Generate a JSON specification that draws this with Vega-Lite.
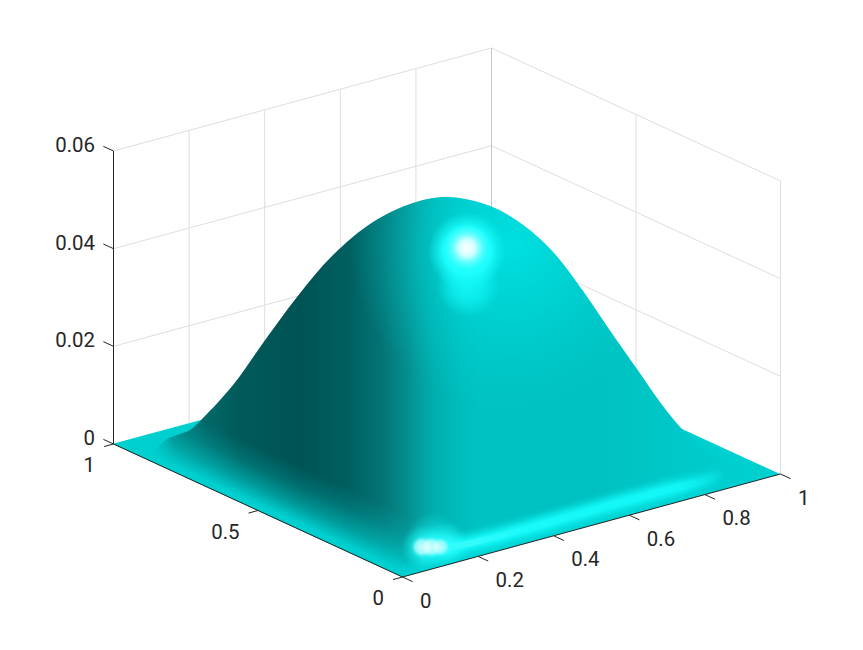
{"$schema":"https://vega.github.io/schema/vega-lite/v6.json","width":863,"height":650,"padding":0,"autosize":{"type":"fit","contains":"padding"},"background":"white","config":{"view":{"stroke":null}},
"datasets":{
"frame":[
{"k":"grid","g":"a1","x":0.2,"y":1,"z":0},{"k":"grid","g":"a1","x":0.2,"y":1,"z":0.06},
{"k":"grid","g":"a2","x":0.4,"y":1,"z":0},{"k":"grid","g":"a2","x":0.4,"y":1,"z":0.06},
{"k":"grid","g":"a3","x":0.6,"y":1,"z":0},{"k":"grid","g":"a3","x":0.6,"y":1,"z":0.06},
{"k":"grid","g":"a4","x":0.8,"y":1,"z":0},{"k":"grid","g":"a4","x":0.8,"y":1,"z":0.06},
{"k":"grid","g":"a5","x":1,"y":0.5,"z":0},{"k":"grid","g":"a5","x":1,"y":0.5,"z":0.06},
{"k":"grid","g":"a6","x":1,"y":0,"z":0},{"k":"grid","g":"a6","x":1,"y":0,"z":0.06},
{"k":"grid","g":"b1","x":0,"y":1,"z":0.02},{"k":"grid","g":"b1","x":1,"y":1,"z":0.02},
{"k":"grid","g":"b2","x":0,"y":1,"z":0.04},{"k":"grid","g":"b2","x":1,"y":1,"z":0.04},
{"k":"grid","g":"b3","x":0,"y":1,"z":0.06},{"k":"grid","g":"b3","x":1,"y":1,"z":0.06},
{"k":"grid","g":"c1","x":1,"y":1,"z":0.02},{"k":"grid","g":"c1","x":1,"y":0,"z":0.02},
{"k":"grid","g":"c2","x":1,"y":1,"z":0.04},{"k":"grid","g":"c2","x":1,"y":0,"z":0.04},
{"k":"grid","g":"c3","x":1,"y":1,"z":0.06},{"k":"grid","g":"c3","x":1,"y":0,"z":0.06},
{"k":"back","g":"d","x":1,"y":1,"z":0},{"k":"back","g":"d","x":1,"y":1,"z":0.06},
{"k":"axis","g":"xa","x":0,"y":0,"z":0},{"k":"axis","g":"xa","x":1,"y":0,"z":0},
{"k":"axis","g":"ya","x":0,"y":0,"z":0},{"k":"axis","g":"ya","x":0,"y":1,"z":0},
{"k":"axis","g":"za","x":0,"y":1,"z":0},{"k":"axis","g":"za","x":0,"y":1,"z":0.06},
{"k":"axis","g":"xt0","x":0,"y":0,"z":0},{"k":"axis","g":"xt0","x":0,"y":-0.035,"z":0},
{"k":"axis","g":"xt1","x":0.2,"y":0,"z":0},{"k":"axis","g":"xt1","x":0.2,"y":-0.035,"z":0},
{"k":"axis","g":"xt2","x":0.4,"y":0,"z":0},{"k":"axis","g":"xt2","x":0.4,"y":-0.035,"z":0},
{"k":"axis","g":"xt3","x":0.6,"y":0,"z":0},{"k":"axis","g":"xt3","x":0.6,"y":-0.035,"z":0},
{"k":"axis","g":"xt4","x":0.8,"y":0,"z":0},{"k":"axis","g":"xt4","x":0.8,"y":-0.035,"z":0},
{"k":"axis","g":"xt5","x":1,"y":0,"z":0},{"k":"axis","g":"xt5","x":1,"y":-0.035,"z":0},
{"k":"axis","g":"yt0","x":0,"y":0,"z":0},{"k":"axis","g":"yt0","x":-0.025,"y":0,"z":0},
{"k":"axis","g":"yt1","x":0,"y":0.5,"z":0},{"k":"axis","g":"yt1","x":-0.025,"y":0.5,"z":0},
{"k":"axis","g":"yt2","x":0,"y":1,"z":0},{"k":"axis","g":"yt2","x":-0.025,"y":1,"z":0},
{"k":"axis","g":"zt0","x":0,"y":1,"z":0},{"k":"axis","g":"zt0","x":0,"y":1.035,"z":0},
{"k":"axis","g":"zt1","x":0,"y":1,"z":0.02},{"k":"axis","g":"zt1","x":0,"y":1.035,"z":0.02},
{"k":"axis","g":"zt2","x":0,"y":1,"z":0.04},{"k":"axis","g":"zt2","x":0,"y":1.035,"z":0.04},
{"k":"axis","g":"zt3","x":0,"y":1,"z":0.06},{"k":"axis","g":"zt3","x":0,"y":1.035,"z":0.06}
],
"labels":[
{"a":"x","x":0,"y":0,"z":0,"t":"0"},{"a":"x","x":0.2,"y":0,"z":0,"t":"0.2"},{"a":"x","x":0.4,"y":0,"z":0,"t":"0.4"},{"a":"x","x":0.6,"y":0,"z":0,"t":"0.6"},{"a":"x","x":0.8,"y":0,"z":0,"t":"0.8"},{"a":"x","x":1,"y":0,"z":0,"t":"1"},
{"a":"y","x":0,"y":0,"z":0,"t":"0"},{"a":"y","x":0,"y":0.5,"z":0,"t":"0.5"},{"a":"y","x":0,"y":1,"z":0,"t":"1"},
{"a":"z","x":0,"y":1,"z":0,"t":"0"},{"a":"z","x":0,"y":1,"z":0.02,"t":"0.02"},{"a":"z","x":0,"y":1,"z":0.04,"t":"0.04"},{"a":"z","x":0,"y":1,"z":0.06,"t":"0.06"}
],
"shape":[
{"s":"base","h":113,"v":444},{"s":"base","h":402,"v":577},{"s":"base","h":780,"v":474},{"s":"base","h":491,"v":341},
{"s":"dome","h":150,"v":456},{"s":"dome","h":167,"v":439},{"s":"dome","h":177,"v":435},{"s":"dome","h":190,"v":430},{"s":"dome","h":203,"v":418},{"s":"dome","h":233,"v":385},{"s":"dome","h":263,"v":343},{"s":"dome","h":297,"v":297},{"s":"dome","h":333,"v":255},{"s":"dome","h":373,"v":222},{"s":"dome","h":413,"v":203},{"s":"dome","h":447,"v":197},{"s":"dome","h":490,"v":206},{"s":"dome","h":523,"v":225},{"s":"dome","h":553,"v":252},{"s":"dome","h":583,"v":291},{"s":"dome","h":613,"v":335},{"s":"dome","h":637,"v":369},{"s":"dome","h":660,"v":402},{"s":"dome","h":682,"v":429},{"s":"dome","h":705,"v":449},{"s":"dome","h":730,"v":463},{"s":"dome","h":755,"v":476},{"s":"dome","h":700,"v":492},{"s":"dome","h":550,"v":533},{"s":"dome","h":430,"v":565},{"s":"dome","h":402,"v":572},{"s":"dome","h":300,"v":525},{"s":"dome","h":200,"v":479},
{"s":"leftband","h":26,"v":404},{"s":"leftband","h":113,"v":444},{"s":"leftband","h":402,"v":577},{"s":"leftband","h":490,"v":617.5},{"s":"leftband","h":402,"v":577},{"s":"leftband","h":490,"v":553},{"s":"leftband","h":490,"v":404},{"s":"leftband","h":236,"v":404},{"s":"leftband","h":205,"v":418},{"s":"leftband","h":113,"v":444},
{"s":"frontband","h":402,"v":577},{"s":"frontband","h":780,"v":474},{"s":"frontband","h":402,"v":474},
{"s":"halo2","h":436,"v":253},{"s":"halo2","h":500,"v":253},{"s":"halo2","h":500,"v":317},{"s":"halo2","h":436,"v":317},
{"s":"halo1","h":428,"v":212},{"s":"halo1","h":506,"v":212},{"s":"halo1","h":506,"v":290},{"s":"halo1","h":428,"v":290},
{"s":"core1","h":443,"v":224},{"s":"core1","h":491,"v":224},{"s":"core1","h":491,"v":272},{"s":"core1","h":443,"v":272},
{"s":"streak","h":418,"v":551},{"s":"streak","h":440,"v":549},{"s":"streak","h":480,"v":541},{"s":"streak","h":540,"v":525},{"s":"streak","h":600,"v":508},{"s":"streak","h":660,"v":492},{"s":"streak","h":700,"v":482},{"s":"streak","h":725,"v":474},
{"s":"halo3","h":405,"v":512},{"s":"halo3","h":461,"v":512},{"s":"halo3","h":461,"v":568},{"s":"halo3","h":405,"v":568},
{"s":"halo4","h":401,"v":525},{"s":"halo4","h":447,"v":525},{"s":"halo4","h":447,"v":571},{"s":"halo4","h":401,"v":571},
{"s":"halo5","h":423,"v":522},{"s":"halo5","h":469,"v":522},{"s":"halo5","h":469,"v":568},{"s":"halo5","h":423,"v":568},
{"s":"core2","h":411,"v":536},{"s":"core2","h":433,"v":536},{"s":"core2","h":433,"v":558},{"s":"core2","h":411,"v":558},
{"s":"core3","h":420,"v":536},{"s":"core3","h":442,"v":536},{"s":"core3","h":442,"v":558},{"s":"core3","h":420,"v":558},
{"s":"core4","h":430,"v":537},{"s":"core4","h":450,"v":537},{"s":"core4","h":450,"v":557},{"s":"core4","h":430,"v":557}
]},
"encoding":{"x":{"field":"h","type":"quantitative","axis":null,"scale":{"domain":[0,863],"zero":false,"nice":false}},"y":{"field":"v","type":"quantitative","axis":null,"scale":{"domain":[650,0],"zero":false,"nice":false}}},
"layer":[
{"data":{"name":"frame"},"transform":[{"filter":"datum.k=='grid'"},{"calculate":"402.5+378*datum.x-289*datum.y","as":"h"},{"calculate":"577-103*datum.x-133*datum.y-4883.3*datum.z","as":"v"}],"mark":{"type":"line","stroke":"#dedede","strokeWidth":1},"encoding":{"detail":{"field":"g"}}},
{"data":{"name":"frame"},"transform":[{"filter":"datum.k=='back'"},{"calculate":"402.5+378*datum.x-289*datum.y","as":"h"},{"calculate":"577-103*datum.x-133*datum.y-4883.3*datum.z","as":"v"}],"mark":{"type":"line","stroke":"#c6c6c6","strokeWidth":1},"encoding":{"detail":{"field":"g"}}},
{"data":{"name":"shape"},"transform":[{"window":[{"op":"row_number","as":"i"}]},{"filter":"datum.s=='base'"}],"mark":{"type":"line","fill":"#00cfcf","strokeWidth":0},"encoding":{"order":{"field":"i"}}},
{"data":{"name":"shape"},"transform":[{"window":[{"op":"row_number","as":"i"}]},{"filter":"datum.s=='dome'"}],"mark":{"type":"line","interpolate":"catmull-rom","strokeWidth":0,"fill":{"gradient":"linear","x1":0,"y1":0,"x2":1,"y2":0,"stops":[{"offset":0,"color":"#00cccc"},{"offset":0.016,"color":"#00a8a8"},{"offset":0.04,"color":"#037a7a"},{"offset":0.09,"color":"#03696a"},{"offset":0.148,"color":"#015a5a"},{"offset":0.246,"color":"#005354"},{"offset":0.328,"color":"#005f60"},{"offset":0.385,"color":"#047577"},{"offset":0.426,"color":"#058e8f"},{"offset":0.45,"color":"#03a2a2"},{"offset":0.475,"color":"#00b0b0"},{"offset":0.508,"color":"#00bcbc"},{"offset":0.541,"color":"#00c2c2"},{"offset":0.738,"color":"#00c1c1"},{"offset":0.869,"color":"#00c8c8"},{"offset":1,"color":"#00d0d0"}]}},"encoding":{"order":{"field":"i"}}},
{"data":{"name":"shape"},"transform":[{"window":[{"op":"row_number","as":"i"}]},{"filter":"datum.s=='dome'"}],"mark":{"type":"line","interpolate":"catmull-rom","strokeWidth":0,"fill":{"gradient":"radial","x1":0.6,"y1":0.27,"r1":0,"x2":0.6,"y2":0.27,"r2":0.27,"stops":[{"offset":0,"color":"rgba(0,232,232,0.8)"},{"offset":0.5,"color":"rgba(0,225,225,0.4)"},{"offset":1,"color":"rgba(0,215,215,0)"}]}},"encoding":{"order":{"field":"i"}}},
{"data":{"name":"shape"},"transform":[{"window":[{"op":"row_number","as":"i"}]},{"filter":"datum.s=='halo2'"}],"mark":{"type":"line","strokeWidth":0,"fill":{"gradient":"radial","x1":0.5,"y1":0.5,"r1":0,"x2":0.5,"y2":0.5,"r2":0.5,"stops":[{"offset":0,"color":"rgba(20,250,250,0.9)"},{"offset":0.5,"color":"rgba(20,250,250,0.6)"},{"offset":1,"color":"rgba(20,250,250,0)"}]}},"encoding":{"order":{"field":"i"}}},
{"data":{"name":"shape"},"transform":[{"window":[{"op":"row_number","as":"i"}]},{"filter":"datum.s=='halo1'"}],"mark":{"type":"line","strokeWidth":0,"fill":{"gradient":"radial","x1":0.5,"y1":0.5,"r1":0,"x2":0.5,"y2":0.5,"r2":0.5,"stops":[{"offset":0,"color":"rgba(30,255,255,1)"},{"offset":0.6,"color":"rgba(30,255,255,0.95)"},{"offset":1,"color":"rgba(20,245,245,0)"}]}},"encoding":{"order":{"field":"i"}}},
{"data":{"name":"shape"},"transform":[{"window":[{"op":"row_number","as":"i"}]},{"filter":"datum.s=='core1'"}],"mark":{"type":"line","strokeWidth":0,"fill":{"gradient":"radial","x1":0.5,"y1":0.5,"r1":0,"x2":0.5,"y2":0.5,"r2":0.5,"stops":[{"offset":0,"color":"rgba(255,255,255,1)"},{"offset":0.35,"color":"rgba(225,255,255,0.9)"},{"offset":1,"color":"rgba(60,255,255,0)"}]}},"encoding":{"order":{"field":"i"}}},
{"data":{"name":"shape"},"transform":[{"window":[{"op":"row_number","as":"i"}]},{"filter":"datum.s=='leftband'"}],"mark":{"type":"line","strokeWidth":0,"fill":{"gradient":"linear","x1":0,"y1":1,"x2":1,"y2":0,"stops":[{"offset":0,"color":"rgba(0,207,207,1)"},{"offset":0.515,"color":"rgba(0,207,207,1)"},{"offset":0.557,"color":"rgba(0,207,207,0.55)"},{"offset":0.603,"color":"rgba(0,207,207,0.2)"},{"offset":0.65,"color":"rgba(0,207,207,0)"},{"offset":1,"color":"rgba(0,207,207,0)"}]}},"encoding":{"order":{"field":"i"}}},
{"data":{"name":"shape"},"transform":[{"window":[{"op":"row_number","as":"i"}]},{"filter":"datum.s=='frontband'"}],"mark":{"type":"line","strokeWidth":0,"fill":{"gradient":"linear","x1":0,"y1":0,"x2":1,"y2":1,"stops":[{"offset":0,"color":"rgba(0,207,207,0)"},{"offset":0.43,"color":"rgba(0,207,207,0)"},{"offset":0.48,"color":"rgba(0,207,207,1)"},{"offset":1,"color":"rgba(0,207,207,1)"}]}},"encoding":{"order":{"field":"i"}}},
{"data":{"name":"shape"},"transform":[{"window":[{"op":"row_number","as":"i"}]},{"filter":"datum.s=='streak'"}],"mark":{"type":"line","interpolate":"catmull-rom","strokeWidth":28,"fill":null,"stroke":{"gradient":"linear","x1":0,"y1":0,"x2":1,"y2":0,"stops":[{"offset":0,"color":"rgba(20,255,255,0)"},{"offset":0.1,"color":"rgba(20,255,255,0.1)"},{"offset":0.8,"color":"rgba(20,255,255,0.07)"},{"offset":1,"color":"rgba(20,255,255,0)"}]}},"encoding":{"order":{"field":"i"}}},
{"data":{"name":"shape"},"transform":[{"window":[{"op":"row_number","as":"i"}]},{"filter":"datum.s=='streak'"}],"mark":{"type":"line","interpolate":"catmull-rom","strokeWidth":23,"fill":null,"stroke":{"gradient":"linear","x1":0,"y1":0,"x2":1,"y2":0,"stops":[{"offset":0,"color":"rgba(20,255,255,0)"},{"offset":0.1,"color":"rgba(20,255,255,0.2)"},{"offset":0.8,"color":"rgba(20,255,255,0.15)"},{"offset":1,"color":"rgba(20,255,255,0)"}]}},"encoding":{"order":{"field":"i"}}},
{"data":{"name":"shape"},"transform":[{"window":[{"op":"row_number","as":"i"}]},{"filter":"datum.s=='streak'"}],"mark":{"type":"line","interpolate":"catmull-rom","strokeWidth":18,"fill":null,"stroke":{"gradient":"linear","x1":0,"y1":0,"x2":1,"y2":0,"stops":[{"offset":0,"color":"rgba(20,255,255,0)"},{"offset":0.1,"color":"rgba(20,255,255,0.28)"},{"offset":0.8,"color":"rgba(20,255,255,0.22)"},{"offset":1,"color":"rgba(20,255,255,0)"}]}},"encoding":{"order":{"field":"i"}}},
{"data":{"name":"shape"},"transform":[{"window":[{"op":"row_number","as":"i"}]},{"filter":"datum.s=='streak'"}],"mark":{"type":"line","interpolate":"catmull-rom","strokeWidth":14,"fill":null,"stroke":{"gradient":"linear","x1":0,"y1":0,"x2":1,"y2":0,"stops":[{"offset":0,"color":"rgba(20,255,255,0)"},{"offset":0.1,"color":"rgba(20,255,255,0.38)"},{"offset":0.85,"color":"rgba(20,255,255,0.3)"},{"offset":1,"color":"rgba(20,255,255,0)"}]}},"encoding":{"order":{"field":"i"}}},
{"data":{"name":"shape"},"transform":[{"window":[{"op":"row_number","as":"i"}]},{"filter":"datum.s=='streak'"}],"mark":{"type":"line","interpolate":"catmull-rom","strokeWidth":10,"fill":null,"stroke":{"gradient":"linear","x1":0,"y1":0,"x2":1,"y2":0,"stops":[{"offset":0,"color":"rgba(20,255,255,0)"},{"offset":0.1,"color":"rgba(30,255,255,0.5)"},{"offset":0.85,"color":"rgba(20,255,255,0.4)"},{"offset":1,"color":"rgba(20,255,255,0)"}]}},"encoding":{"order":{"field":"i"}}},
{"data":{"name":"shape"},"transform":[{"window":[{"op":"row_number","as":"i"}]},{"filter":"datum.s=='streak'"}],"mark":{"type":"line","interpolate":"catmull-rom","strokeWidth":6,"fill":null,"stroke":{"gradient":"linear","x1":0,"y1":0,"x2":1,"y2":0,"stops":[{"offset":0,"color":"rgba(40,255,255,0)"},{"offset":0.12,"color":"rgba(90,255,255,0.6)"},{"offset":0.35,"color":"rgba(30,255,255,0.55)"},{"offset":0.85,"color":"rgba(20,255,255,0.45)"},{"offset":1,"color":"rgba(20,255,255,0)"}]}},"encoding":{"order":{"field":"i"}}},
{"data":{"name":"shape"},"transform":[{"window":[{"op":"row_number","as":"i"}]},{"filter":"datum.s=='halo3'"}],"mark":{"type":"line","strokeWidth":0,"fill":{"gradient":"radial","x1":0.5,"y1":0.5,"r1":0,"x2":0.5,"y2":0.5,"r2":0.5,"stops":[{"offset":0,"color":"rgba(40,255,255,0.7)"},{"offset":0.5,"color":"rgba(30,250,250,0.32)"},{"offset":1,"color":"rgba(20,245,245,0)"}]}},"encoding":{"order":{"field":"i"}}},
{"data":{"name":"shape"},"transform":[{"window":[{"op":"row_number","as":"i"}]},{"filter":"datum.s=='halo4'"}],"mark":{"type":"line","strokeWidth":0,"fill":{"gradient":"radial","x1":0.5,"y1":0.5,"r1":0,"x2":0.5,"y2":0.5,"r2":0.5,"stops":[{"offset":0,"color":"rgba(60,255,255,0.85)"},{"offset":0.5,"color":"rgba(40,255,255,0.5)"},{"offset":1,"color":"rgba(20,245,245,0)"}]}},"encoding":{"order":{"field":"i"}}},
{"data":{"name":"shape"},"transform":[{"window":[{"op":"row_number","as":"i"}]},{"filter":"datum.s=='halo5'"}],"mark":{"type":"line","strokeWidth":0,"fill":{"gradient":"radial","x1":0.5,"y1":0.5,"r1":0,"x2":0.5,"y2":0.5,"r2":0.5,"stops":[{"offset":0,"color":"rgba(60,255,255,0.85)"},{"offset":0.5,"color":"rgba(40,255,255,0.5)"},{"offset":1,"color":"rgba(20,245,245,0)"}]}},"encoding":{"order":{"field":"i"}}},
{"data":{"name":"shape"},"transform":[{"window":[{"op":"row_number","as":"i"}]},{"filter":"datum.s=='core2'"}],"mark":{"type":"line","strokeWidth":0,"fill":{"gradient":"radial","x1":0.5,"y1":0.5,"r1":0,"x2":0.5,"y2":0.5,"r2":0.5,"stops":[{"offset":0,"color":"rgba(255,255,255,0.8)"},{"offset":0.6,"color":"rgba(225,255,255,0.6)"},{"offset":1,"color":"rgba(80,255,255,0)"}]}},"encoding":{"order":{"field":"i"}}},
{"data":{"name":"shape"},"transform":[{"window":[{"op":"row_number","as":"i"}]},{"filter":"datum.s=='core3'"}],"mark":{"type":"line","strokeWidth":0,"fill":{"gradient":"radial","x1":0.5,"y1":0.5,"r1":0,"x2":0.5,"y2":0.5,"r2":0.5,"stops":[{"offset":0,"color":"rgba(255,255,255,0.8)"},{"offset":0.6,"color":"rgba(225,255,255,0.6)"},{"offset":1,"color":"rgba(80,255,255,0)"}]}},"encoding":{"order":{"field":"i"}}},
{"data":{"name":"shape"},"transform":[{"window":[{"op":"row_number","as":"i"}]},{"filter":"datum.s=='core4'"}],"mark":{"type":"line","strokeWidth":0,"fill":{"gradient":"radial","x1":0.5,"y1":0.5,"r1":0,"x2":0.5,"y2":0.5,"r2":0.5,"stops":[{"offset":0,"color":"rgba(255,255,255,0.7)"},{"offset":0.6,"color":"rgba(225,255,255,0.5)"},{"offset":1,"color":"rgba(80,255,255,0)"}]}},"encoding":{"order":{"field":"i"}}},
{"data":{"name":"frame"},"transform":[{"filter":"datum.k=='axis'"},{"calculate":"402.5+378*datum.x-289*datum.y","as":"h"},{"calculate":"577-103*datum.x-133*datum.y-4883.3*datum.z","as":"v"}],"mark":{"type":"line","stroke":"#262626","strokeWidth":1},"encoding":{"detail":{"field":"g"}}},
{"data":{"name":"labels"},"transform":[{"filter":"datum.a=='x'"},{"calculate":"402+378*datum.x-289*datum.y","as":"h"},{"calculate":"577-103*datum.x-133*datum.y-4883.3*datum.z","as":"v"}],"mark":{"type":"text","font":"Roboto","fontSize":20.4,"color":"#262626","align":"left","baseline":"middle","dx":18,"dy":24.5},"encoding":{"text":{"field":"t"}}},
{"data":{"name":"labels"},"transform":[{"filter":"datum.a=='y'"},{"calculate":"402+378*datum.x-289*datum.y","as":"h"},{"calculate":"577-103*datum.x-133*datum.y-4883.3*datum.z","as":"v"}],"mark":{"type":"text","font":"Roboto","fontSize":20.4,"color":"#262626","align":"right","baseline":"middle","dx":-18,"dy":22},"encoding":{"text":{"field":"t"}}},
{"data":{"name":"labels"},"transform":[{"filter":"datum.a=='z'"},{"calculate":"402+378*datum.x-289*datum.y","as":"h"},{"calculate":"577-103*datum.x-133*datum.y-4883.3*datum.z","as":"v"}],"mark":{"type":"text","font":"Roboto","fontSize":20.4,"color":"#262626","align":"right","baseline":"middle","dx":-18,"dy":-5},"encoding":{"text":{"field":"t"}}}
]}
